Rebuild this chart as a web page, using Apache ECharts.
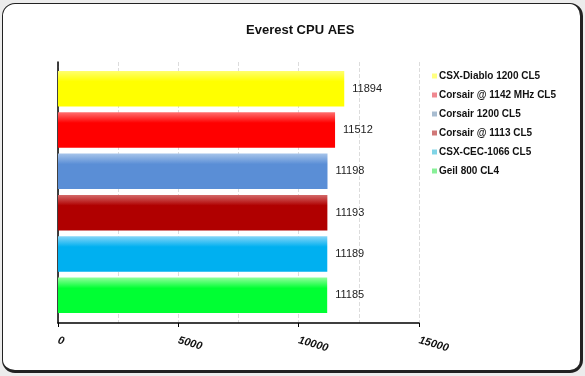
<!DOCTYPE html>
<html>
<head>
<meta charset="utf-8">
<script src="https://cdn.jsdelivr.net/npm/echarts@6/dist/echarts.min.js"></script>
<style>
  html, body { margin: 0; padding: 0; background: #ececec; }
  #frame {
    position: absolute; left: 2px; top: 3px; width: 577px; height: 366px;
    background: #fff; border: 1px solid #222; border-right-width: 3px; border-bottom-width: 3px;
    border-radius: 13px;
  }
  #chart { position: absolute; left: 0; top: 0; width: 585px; height: 376px; }
</style>
</head>
<body>
<div id="frame"></div>
<div id="chart"></div>
<script>
// bar chart data
var names = ['CSX-Diablo 1200 CL5', 'Corsair @ 1142 MHz CL5', 'Corsair 1200 CL5',
             'Corsair @ 1113 CL5', 'CSX-CEC-1066 CL5', 'Geil 800 CL4'];
var values = [11894, 11512, 11198, 11193, 11189, 11185];
var xTicks = [0, 5000, 10000, 15000];
var barColors = ['#ffff00', '#ff0000', '#5a8ed6', '#b00000', '#00b0f0', '#00ff33'];
var topColors = ['#ffff70', '#ff7070', '#a6c4ea', '#d46a6a', '#86d6f8', '#90ff9c'];
var legendColors = ['#ffff80', '#f08890', '#a8bcd0', '#d07878', '#80d4e6', '#88f098'];

var series = [];
for (var i = 0; i < names.length; i++) {
    var d = [];
    for (var j = 0; j < names.length; j++) d.push(j === i ? values[i] : '-');
    series.push({
        name: names[i],
        type: 'bar',
        stack: 'all',
        xAxisIndex: 1,
        yAxisIndex: 1,
        barCategoryGap: '14%',
        data: d,
        itemStyle: {
            color: new echarts.graphic.LinearGradient(0, 0, 0, 1, [
                {offset: 0, color: topColors[i]},
                {offset: 0.3, color: barColors[i]},
                {offset: 1, color: barColors[i]}
            ])
        },
        label: {
            show: true,
            position: 'right',
            distance: 8,
            color: '#222',
            fontSize: 11,
            fontFamily: 'Liberation Sans'
        }
    });
}

var legendData = names.map(function(n, i) {
    return {name: n, itemStyle: {color: legendColors[i]}};
});

var option = {
    animation: false,
    backgroundColor: 'transparent',
    title: {
        text: 'Everest CPU AES',
        left: 241,
        top: 19,
        textStyle: {fontSize: 13, fontWeight: 'bold', color: '#111', fontFamily: 'Liberation Sans'}
    },
    legend: {
        orient: 'vertical',
        left: 427,
        top: 66,
        itemWidth: 5,
        itemHeight: 5,
        itemGap: 9,
        icon: 'rect',
        data: legendData,
        textStyle: {fontSize: 10, fontWeight: 'bold', color: '#111', fontFamily: 'Liberation Sans', lineHeight: 10, padding: [0, 0, 0, -3]}
    },
    grid: [
        {left: 58, right: 166, top: 62, bottom: 53},
        {left: 58, right: 166, top: 68, bottom: 60}
    ],
    xAxis: [{
        type: 'value',
        gridIndex: 0,
        min: xTicks[0],
        max: xTicks[xTicks.length - 1],
        interval: xTicks[1] - xTicks[0],
        axisLine: {show: true, lineStyle: {color: '#000', width: 1.5}},
        axisTick: {show: true, length: 4, lineStyle: {color: '#000'}},
        axisLabel: {
            rotate: -16,
            margin: 17,
            fontSize: 11,
            fontStyle: 'italic',
            fontWeight: 'bold',
            color: '#111',
            fontFamily: 'Liberation Sans',
            formatter: function(v) { return String(v); }
        },
        splitLine: {show: true, lineStyle: {color: '#dcdcdc', type: 'dashed'}},
        minorTick: {show: false, splitNumber: 2},
        minorSplitLine: {show: true, lineStyle: {color: '#dcdcdc', type: 'dashed'}}
    }, {
        type: 'value',
        gridIndex: 1,
        min: xTicks[0],
        max: xTicks[xTicks.length - 1],
        show: false
    }],
    yAxis: [{
        type: 'category',
        gridIndex: 0,
        data: [''],
        axisLine: {show: true, lineStyle: {color: '#000', width: 1.5}},
        axisTick: {show: false},
        axisLabel: {show: false}
    }, {
        type: 'category',
        gridIndex: 1,
        inverse: true,
        data: names,
        show: false
    }],
    series: series
};

var myChart = echarts.init(document.getElementById('chart'));
myChart.setOption(option);
</script>
</body>
</html>
